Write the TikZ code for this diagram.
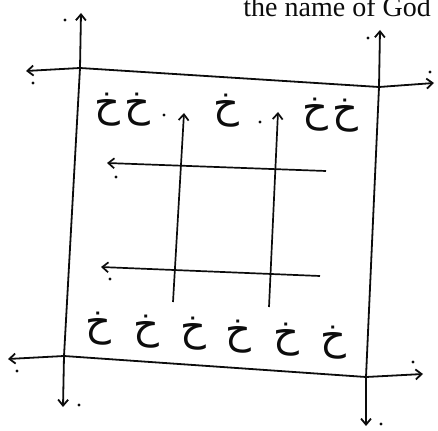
\documentclass[tikz,border=0pt]{standalone}
\usepackage{fontspec}
\setmainfont{Liberation Serif}
\newfontfamily\arabicfont[Script=Arabic]{DejaVu Sans}
\TeXXeTstate=1
\usepackage{tikz}
\usetikzlibrary{arrows.meta}
\definecolor{ink}{RGB}{12,12,12}
\tikzset{
  letter/.style={font=\arabicfont\fontsize{40}{40}\selectfont,text=ink,inner sep=0pt},
  caption/.style={font=\fontsize{28}{28}\selectfont,text=ink,inner sep=0pt,anchor=base east},
  speck/.style={circle,fill=ink,inner sep=0pt,minimum size=3.2pt},
  bigline/.style={arrows={Straight Barb[length=6pt,width=10pt]-Straight Barb[length=6pt,width=10pt]},
    draw=ink,line width=1.8pt},
  smallline/.style={arrows={-Straight Barb[length=6pt,width=10pt]},draw=ink,line width=1.7pt},
}

\begin{document}
\begin{tikzpicture}[x=1pt,y=-1pt]
  \useasboundingbox (0,0) rectangle (438,430);
  \node[caption] (title) at (431,17) {the name of God};

  % corners of the square
  \coordinate (nw) at (80,68);
  \coordinate (ne) at (379,87);
  \coordinate (sw) at (64,356);
  \coordinate (se) at (366,377);

  % free ends of the four long lines
  \coordinate (ntop) at (81,13);
  \coordinate (nbot) at (63,407);
  \coordinate (etop) at (380,30);
  \coordinate (ebot) at (366,426);
  \coordinate (wleft) at (26,71);
  \coordinate (wright) at (434,83);
  \coordinate (sleft) at (8,359);
  \coordinate (sright) at (423,374);

  % inner lines
  \coordinate (v1top) at (184,113);
  \coordinate (v1bot) at (173,302);
  \coordinate (v2top) at (278,112);
  \coordinate (v2bot) at (269,307);
  \coordinate (h1r) at (326,171);
  \coordinate (h1l) at (107,163);
  \coordinate (h2r) at (320,276);
  \coordinate (h2l) at (101,267);

  \draw[bigline] (ntop) -- (nw) -- (sw) -- (nbot);
  \draw[bigline] (etop) -- (ne) -- (se) -- (ebot);
  \draw[bigline] (wleft) -- (nw) -- (ne) -- (wright);
  \draw[bigline] (sleft) -- (sw) -- (se) -- (sright);
  \draw[smallline] (v1bot) -- (v1top);
  \draw[smallline] (v2bot) -- (v2top);
  \draw[smallline] (h1r) -- (h1l);
  \draw[smallline] (h2r) -- (h2l);

  % letters, top row
  \node[letter] (t1) at (107,110) {\beginR خ\endR};
  \node[letter] (t2) at (137,110) {\beginR خ\endR};
  \node[letter] (t3) at (226,111) {\beginR خ\endR};
  \node[letter] (t4) at (315,115) {\beginR خ\endR};
  \node[letter] (t5) at (345,116) {\beginR خ\endR};

  % letters, bottom row
  \foreach \i/\x/\y in {1/98/329,2/146/332,3/193/334,4/238/337,5/286/340,6/333/343}
    \node[letter] (b\i) at (\x,\y) {\beginR خ\endR};

  % dots
  \node[speck] (p1) at (65,20) {};
  \node[speck] (p2) at (368,38) {};
  \node[speck] (p3) at (33,83) {};
  \node[speck] (p4) at (430,72) {};
  \node[speck] (p5) at (164,115) {};
  \node[speck] (p6) at (260,122) {};
  \node[speck] (p7) at (116,177) {};
  \node[speck] (p8) at (110,279) {};
  \node[speck] (p9) at (17,371) {};
  \node[speck] (p10) at (413,362) {};
  \node[speck] (p11) at (79,405) {};
  \node[speck] (p12) at (381,424) {};
\end{tikzpicture}
\end{document}
